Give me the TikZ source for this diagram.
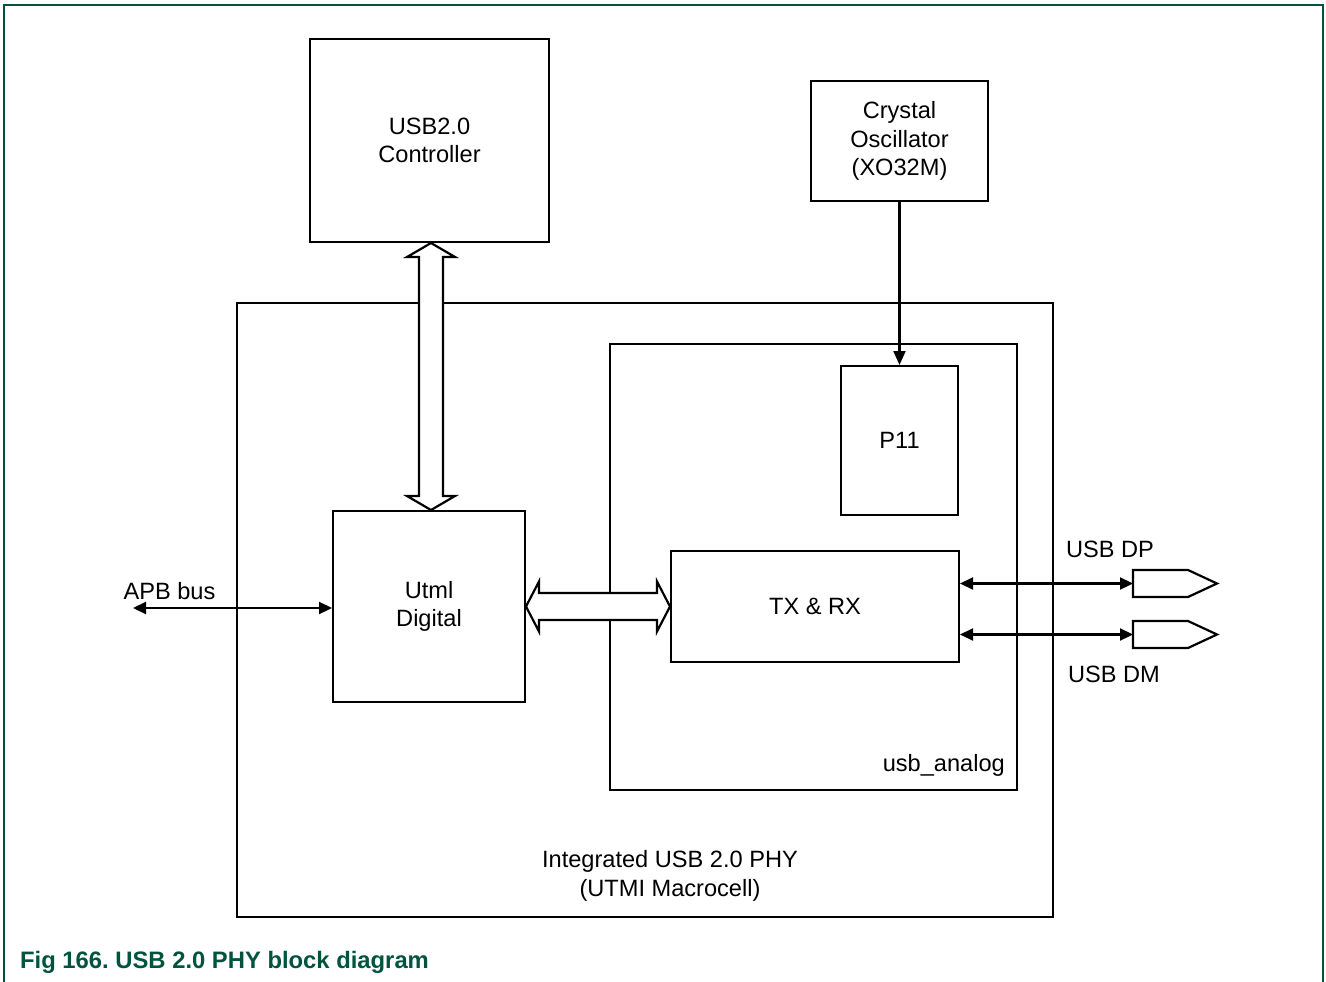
\documentclass[tikz,border=0pt]{standalone}
\usepackage{fontspec}
\setmainfont{Liberation Sans}
\usetikzlibrary{arrows.meta,calc}
\definecolor{nxpgreen}{RGB}{0,84,62}
\frenchspacing
\tikzset{
  blk/.style={draw, line width=2pt, rectangle, inner sep=0pt, align=center, font=\fontsize{23.6}{28.5}\selectfont},
  txt/.style={inner sep=0pt, align=center, font=\fontsize{23.6}{28.5}\selectfont},
  conn/.style={line width=2.2pt, {Triangle[length=13pt,width=12pt]}-{Triangle[length=13pt,width=12pt]}},
  oneway/.style={line width=2.2pt, -{Triangle[length=14pt,width=12pt]}},
  hollow/.style={draw, line width=2.2pt, fill=white, line join=miter},
  plugline/.style={draw, line width=2.2pt, line join=miter},
}
\begin{document}
\begin{tikzpicture}[x=1pt,y=-1pt]
\useasboundingbox (0,0) rectangle (1326,982);
% page frame
\draw[nxpgreen, line width=1.6pt] (4,982) -- (4,5) -- (1323,5) -- (1323,982);
% outer boxes
\node[blk, minimum width=816pt, minimum height=614pt] (phy) at (645,610) {};
\node[blk, minimum width=407pt, minimum height=446pt] (ana) at (813.5,567) {};
% blocks
\node[blk, minimum width=239pt, minimum height=203pt] (ctrl) at (429.5,140.5) {USB2.0\\Controller};
\node[blk, minimum width=177pt, minimum height=120pt] (xo) at (899.5,141) {Crystal\\Oscillator\\(XO32M)};
\node[blk, minimum width=117pt, minimum height=149pt] (p11) at (899.5,440.5) {P11};
\node[blk, minimum width=192pt, minimum height=191pt] (utml) at (429,606.5) {Utml\\Digital};
\node[blk, minimum width=288pt, minimum height=111pt] (txrx) at (815,606.5) {TX \& RX};
% labels
\node[txt] (phylbl) at (670,876) {Integrated USB 2.0 PHY\\(UTMI Macrocell)};
\node[txt, anchor=east] (analbl) at (1005,765) {usb\_analog};
% plugs
\coordinate (dp) at (1133,583.5);
\coordinate (dm) at (1133,634.5);
\foreach \p in {dp,dm}{
  \draw[plugline] (\p) -- ($(\p)+(0,-13.5)$) -- ($(\p)+(55,-13.5)$) -- ($(\p)+(84,0)$)
    -- ($(\p)+(55,13.5)$) -- ($(\p)+(0,13.5)$) -- cycle;
}
\node[txt] (dplbl) at (1110,549) {USB DP};
\node[txt] (dmlbl) at (1114,674) {USB DM};
% APB bus
\coordinate (apb) at (133,608);
\node[txt] (apblbl) at (169.5,591) {APB bus};
\draw[conn] (apb) -- (apb -| utml.west);
% crystal to P11
\draw[oneway] (xo.south) -- (p11.north);
% TX/RX to plugs
\draw[conn] (dp -| txrx.east) -- (dp);
\draw[conn] (dm -| txrx.east) -- (dm);
% hollow vertical double arrow
\coordinate (vt) at ($(ctrl.south)+(1.5,0)$);
\coordinate (vb) at (vt |- utml.north);
\draw[hollow] (vt) -- ($(vt)+(24,14)$) -- ($(vt)+(12,14)$) -- ($(vb)+(12,-14)$) -- ($(vb)+(24,-14)$)
  -- (vb) -- ($(vb)+(-24,-14)$) -- ($(vb)+(-12,-14)$) -- ($(vt)+(-12,14)$) -- ($(vt)+(-24,14)$) -- cycle;
% hollow horizontal double arrow
\coordinate (hl) at (utml.east);
\coordinate (hr) at (hl -| txrx.west);
\draw[hollow] (hl) -- ($(hl)+(13,-25)$) -- ($(hl)+(13,-13.5)$) -- ($(hr)+(-13,-13.5)$) -- ($(hr)+(-13,-25)$)
  -- (hr) -- ($(hr)+(-13,25)$) -- ($(hr)+(-13,13.5)$) -- ($(hl)+(13,13.5)$) -- ($(hl)+(13,25)$) -- cycle;
% caption
\node[inner sep=0pt, anchor=west, text=nxpgreen, font=\fontsize{23.8}{28}\selectfont\bfseries] (cap) at (20,962) {Fig 166. USB 2.0 PHY block diagram};
\end{tikzpicture}
\end{document}
